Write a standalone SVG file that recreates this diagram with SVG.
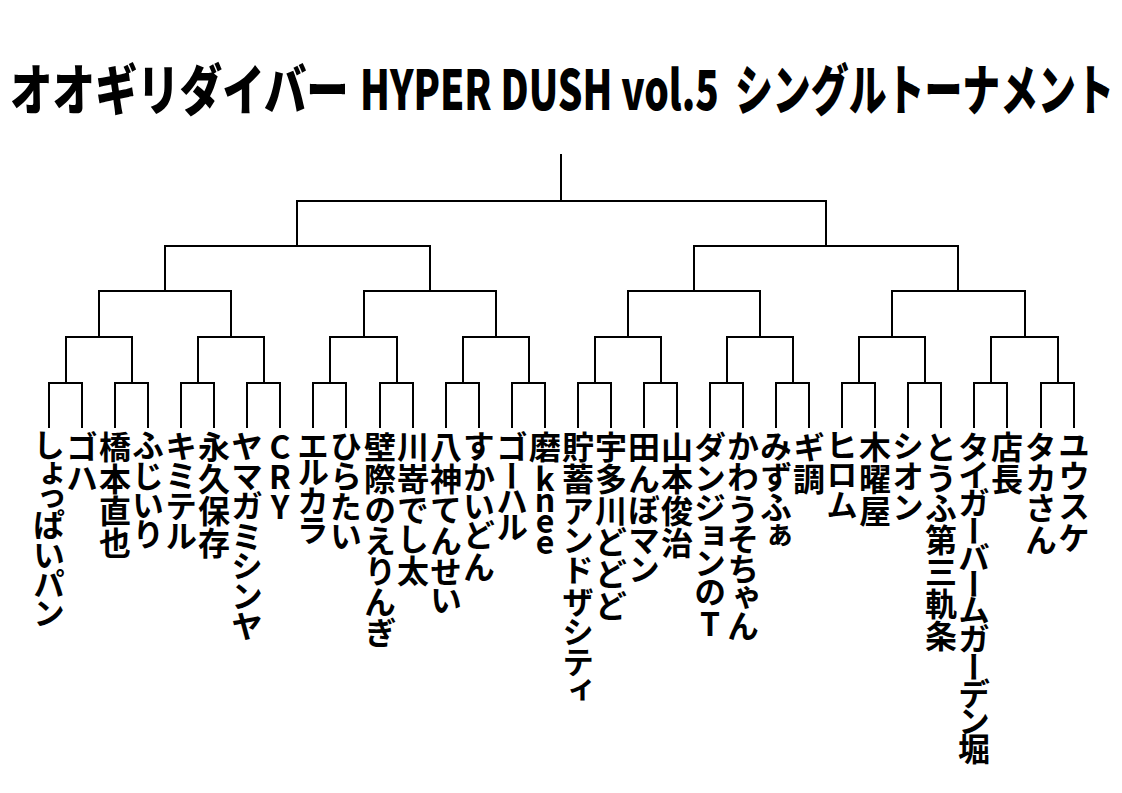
<svg xmlns="http://www.w3.org/2000/svg" width="1122" height="793" viewBox="0 0 1122 793">
<style>
.title{font-family:"Noto Sans CJK JP","Noto Sans",sans-serif;font-weight:900;font-size:55px;fill:#000}
.nm{font-family:"Noto Sans CJK JP","Noto Sans",sans-serif;font-weight:700;font-size:32px;writing-mode:vertical-rl;text-orientation:upright;font-feature-settings:"vpal" 1;fill:#000}
.ln{fill:none;stroke:#000;stroke-width:2;stroke-linecap:square}
</style>
<rect width="1122" height="793" fill="#fff"/>
<text id="title" class="title" transform="scale(0.69 1)" y="110"><tspan x="14.5" textLength="491" lengthAdjust="spacingAndGlyphs">オオギリダイバー</tspan><tspan x="521.7" textLength="520" lengthAdjust="spacingAndGlyphs">HYPER DUSH vol.5</tspan><tspan x="1065.2" textLength="549" lengthAdjust="spacingAndGlyphs">シングルトーナメント</tspan></text>
<g id="connectors" class="ln">
<path d="M561 155V201"/>
<path d="M297 246V201H826V246"/>
<path d="M165 291V246H430V291"/>
<path d="M694 291V246H958V291"/>
<path d="M99 337V291H231V337"/>
<path d="M364 337V291H496V337"/>
<path d="M628 337V291H760V337"/>
<path d="M892 337V291H1025V337"/>
<path d="M66 383V337H132V383"/>
<path d="M198 383V337H264V383"/>
<path d="M330 383V337H397V383"/>
<path d="M463 383V337H529V383"/>
<path d="M595 383V337H661V383"/>
<path d="M727 383V337H793V383"/>
<path d="M859 383V337H925V383"/>
<path d="M991 383V337H1058V383"/>
<path d="M49 427V383H82V427"/>
<path d="M115 427V383H148V427"/>
<path d="M181 427V383H214V427"/>
<path d="M247 427V383H280V427"/>
<path d="M313 427V383H346V427"/>
<path d="M380 427V383H413V427"/>
<path d="M446 427V383H479V427"/>
<path d="M512 427V383H545V427"/>
<path d="M578 427V383H611V427"/>
<path d="M644 427V383H677V427"/>
<path d="M710 427V383H743V427"/>
<path d="M776 427V383H809V427"/>
<path d="M842 427V383H875V427"/>
<path d="M908 427V383H941V427"/>
<path d="M974 427V383H1007V427"/>
<path d="M1041 427V383H1074V427"/>
</g>
<g id="p01"><text class="nm" x="49" y="431">しょっぱいパン</text></g>
<g id="p02"><text class="nm" x="82" y="431">ゴハ</text></g>
<g id="p03"><text class="nm" x="115" y="431">橋本直也</text></g>
<g id="p04"><text class="nm" x="148" y="431">ふじいり</text></g>
<g id="p05"><text class="nm" x="181" y="431">キミテル</text></g>
<g id="p06"><text class="nm" x="214" y="431">永久保存</text></g>
<g id="p07"><text class="nm" x="247" y="431">ヤマガミシンヤ</text></g>
<g id="p08"><text class="nm" x="280" y="431" letter-spacing="-2">CRY</text></g>
<g id="p09"><text class="nm" x="313" y="431" letter-spacing="-2">エルカラ</text></g>
<g id="p10"><text class="nm" x="346" y="431">ひらたい</text></g>
<g id="p11"><text class="nm" x="380" y="431">壁際のえりんぎ</text></g>
<g id="p12"><text class="nm" x="413" y="431">川嵜でし太</text></g>
<g id="p13"><text class="nm" x="446" y="431">八神てんせい</text></g>
<g id="p14"><text class="nm" x="479" y="431">すかいどん</text></g>
<g id="p15"><text class="nm" x="512" y="431" letter-spacing="-3">ゴーハル</text></g>
<g id="p16"><text class="nm" x="545" y="431">磨<tspan letter-spacing="-11">knee</tspan></text></g>
<g id="p17"><text class="nm" x="578" y="431">貯蓄アンドザシティ</text></g>
<g id="p18"><text class="nm" x="611" y="431">宇多川どどど</text></g>
<g id="p19"><text class="nm" x="644" y="431">田んぼマン</text></g>
<g id="p20"><text class="nm" x="677" y="431">山本俊治</text></g>
<g id="p21"><text class="nm" x="710" y="431">ダンジョンのT</text></g>
<g id="p22"><text class="nm" x="743" y="431">かわうそちゃん</text></g>
<g id="p23"><text class="nm" x="776" y="431">みずふぁ</text></g>
<g id="p24"><text class="nm" x="809" y="431">ギ調</text></g>
<g id="p25"><text class="nm" x="842" y="431">ヒロム</text></g>
<g id="p26"><text class="nm" x="875" y="431">木曜屋</text></g>
<g id="p27"><text class="nm" x="908" y="431">シオン</text></g>
<g id="p28"><text class="nm" x="941" y="431">とうふ第三軌条</text></g>
<g id="p29"><text class="nm" x="974" y="431" letter-spacing="-3">タイガーバームガーデン堀</text></g>
<g id="p30"><text class="nm" x="1007" y="431">店長</text></g>
<g id="p31"><text class="nm" x="1041" y="431">タカさん</text></g>
<g id="p32"><text class="nm" x="1074" y="431">ユウスケ</text></g>
</svg>
